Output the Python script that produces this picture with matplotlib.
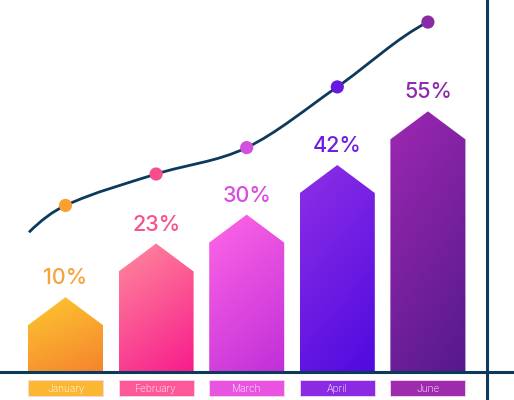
import numpy as np
import matplotlib
matplotlib.use("Agg")
import matplotlib.pyplot as plt
from matplotlib.path import Path
from matplotlib.patches import Polygon, PathPatch, Rectangle
from matplotlib.colors import LinearSegmentedColormap

plt.rcParams['font.family'] = ['Inter', 'DejaVu Sans']

# data
months = ["January", "February", "March", "April", "June"]
values = [10, 23, 30, 42, 55]
trend = [39.0, 46.6, 53.0, 67.7, 83.4]
trend_start = 32.5

# colours
bar_top = ["#fdc830", "#ff8a9c", "#ff66e6", "#8e2fe6", "#9d28b2"]
bar_bottom = ["#f5832e", "#f71c8c", "#c02fd8", "#4f0adf", "#551a8b"]
box_colors = ["#fbb732", "#fd5898", "#e853e0", "#8a2ae2", "#9e2aae"]
text_colors = ["#f8a23a", "#f9508f", "#d84ce3", "#6e1ee3", "#8c2aaa"]
dot_colors = ["#f8a030", "#f74c8e", "#d24fe0", "#6619e0", "#8a2aa5"]
navy = "#0d3a5c"

px = 4.13       # pixels per percent
step = 90.6     # pixels between bars
zero = 366.5    # pixel row of 0%
width = 0.828
tip = 28 / px
base = -5.5 / px  # axis line sits a little below 0
end_tangents = (1.0, 0.5)  # curve slope at its two ends, screen pixels per pixel

fig = plt.figure(figsize=(5.14, 4.0), dpi=100)
ax = fig.add_axes([0, 0, 1, 1])
ax.set_xlim(-65.5 / step, (514 - 65.5) / step)
ax.set_ylim(-(400 - zero) / px, zero / px)
ax.axis("off")

# arrow shaped bars with diagonal gradient
gx, gy = np.meshgrid(np.linspace(0, 1, 60), np.linspace(0, 1, 120))
grad = 0.3 * gx + 0.7 * (1 - gy)
for i, v in enumerate(values):
    x0, x1 = i - width / 2, i + width / 2
    poly = Polygon([(x0, base), (x0, v), (i, v + tip), (x1, v), (x1, base)],
                   closed=True, facecolor="none", edgecolor="none")
    ax.add_patch(poly)
    cmap = LinearSegmentedColormap.from_list("b%d" % i, [bar_top[i], bar_bottom[i]])
    im = ax.imshow(grad, cmap=cmap, extent=[x0, x1, base, v + tip], origin="lower",
                   aspect="auto", interpolation="bilinear", zorder=2)
    im.set_clip_path(poly)
    ax.text(i, v + tip + 19 / px, "%d%%" % v, ha="center", va="center",
            fontsize=15.5, fontweight="medium", color=text_colors[i], zorder=3)

    # month label boxes
    ax.add_patch(Rectangle((x0, (zero - 396) / px), width, 16 / px,
                           facecolor=box_colors[i], edgecolor="#f6d6f0",
                           linewidth=0.6, zorder=2))
    ax.text(i, (zero - 388.5) / px, months[i], ha="center", va="center",
            fontsize=7.3, fontweight="light", color="white", zorder=3)

# smooth trend curve: hermite segments with central-difference tangents
xs = np.array([-0.403] + list(range(len(trend))), dtype=float)
ys = np.array([trend_start] + trend, dtype=float)
n = len(xs)
slopes = np.zeros(n)
slopes[1:-1] = (ys[2:] - ys[:-2]) / (xs[2:] - xs[:-2])
slopes[0] = end_tangents[0] * step / px
slopes[-1] = end_tangents[1] * step / px

verts = [(xs[0], ys[0])]
codes = [Path.MOVETO]
for k in range(n - 1):
    d = (xs[k + 1] - xs[k]) / 3
    verts += [(xs[k] + d, ys[k] + slopes[k] * d),
              (xs[k + 1] - d, ys[k + 1] - slopes[k + 1] * d),
              (xs[k + 1], ys[k + 1])]
    codes += [Path.CURVE4] * 3
ax.add_patch(PathPatch(Path(verts, codes), facecolor="none", edgecolor=navy,
                       linewidth=2.0, zorder=4, capstyle="butt"))
ax.scatter(range(len(trend)), trend, s=90, c=dot_colors, zorder=5, linewidths=0)

# axis lines
ax.axhline(base, color=navy, linewidth=2.2, zorder=4)
ax.axvline((486.7 - 65.5) / step, color=navy, linewidth=2.2, zorder=4)

fig.savefig("out.png", dpi=100)
